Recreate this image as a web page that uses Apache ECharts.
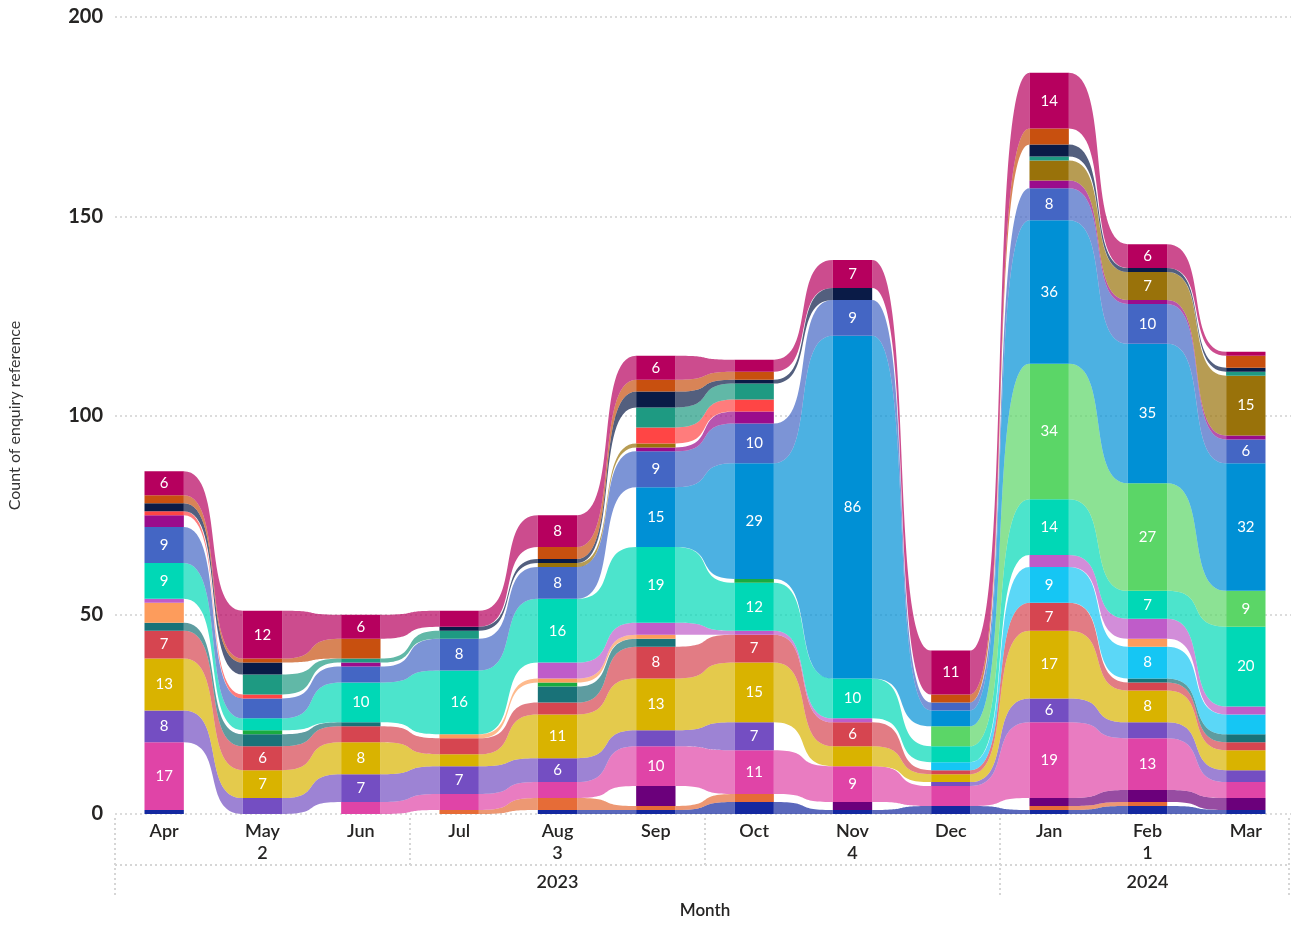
<!DOCTYPE html>
<html><head><meta charset="utf-8">
<script src="https://cdn.jsdelivr.net/npm/echarts@6/dist/echarts.min.js"></script>
<style>html,body{margin:0;padding:0;background:#fff}#c{width:1291px;height:925px}</style>
</head><body><div id="c"></div>
<script>
// ---------- data ----------
const months = ['Apr','May','Jun','Jul','Aug','Sep','Oct','Nov','Dec','Jan','Feb','Mar'];
const quarters = ['2','3','4','1'];          // fiscal quarter labels (one per 3 months)
const years = ['2023','2024'];               // 2023: Apr–Dec, 2024: Jan–Mar
const yTicks = [0, 50, 100, 150, 200];

// each month: segments from bottom to top, [category, count]
const apr = [['navy',1],['pink',17],['purple',8],['yellow',13],['red',7],['darkteal',2],['orange',5],['violet',1],['teal',9],['blue',9],['magpurple',3],['lightred',1],['darknavy',2],['orangebrown',2],['crimson',6]];
const may = [['purple',4],['yellow',7],['red',6],['darkteal',3],['green',1],['teal',3],['blue',5],['lightred',1],['seagreen',5],['darknavy',3],['orangebrown',1],['crimson',12]];
const jun = [['pink',3],['purple',7],['yellow',8],['red',4],['darkteal',1],['teal',10],['blue',4],['magpurple',1],['seagreen',1],['orangebrown',5],['crimson',6]];
const jul = [['orange2',1],['pink',4],['purple',7],['yellow',3],['red',4],['orange',1],['teal',16],['blue',8],['seagreen',2],['darknavy',1],['crimson',4]];
const aug = [['navy',1],['orange2',3],['pink',4],['purple',6],['yellow',11],['red',3],['darkteal',4],['green',1],['orange',1],['violet',4],['teal',16],['blue',8],['olive',1],['darknavy',1],['orangebrown',3],['crimson',8]];
const sep = [['navy',1],['orange2',1],['darkpurple',5],['pink',10],['purple',4],['yellow',13],['red',8],['darkteal',2],['orange',1],['violet',3],['teal',19],['brightblue',15],['blue',9],['magpurple',1],['olive',1],['lightred',4],['seagreen',5],['darknavy',4],['orangebrown',3],['crimson',6]];
const oct = [['navy',3],['orange2',2],['pink',11],['purple',7],['yellow',15],['red',7],['violet',1],['teal',12],['green',1],['brightblue',29],['blue',10],['magpurple',3],['lightred',3],['seagreen',4],['darknavy',1],['orangebrown',2],['crimson',3]];
const nov = [['navy',1],['darkpurple',2],['pink',9],['yellow',5],['red',6],['violet',1],['teal',10],['brightblue',86],['blue',9],['darknavy',3],['crimson',7]];
const dec = [['navy',2],['pink',5],['purple',1],['yellow',2],['red',1],['cyan',2],['teal',4],['lightgreen',5],['brightblue',4],['blue',2],['orangebrown',2],['crimson',11]];
const jan = [['navy',1],['orange2',1],['darkpurple',2],['pink',19],['purple',6],['yellow',17],['red',7],['cyan',9],['violet',3],['teal',14],['lightgreen',34],['brightblue',36],['blue',8],['magpurple',2],['olive',5],['seagreen',1],['darknavy',3],['orangebrown',4],['crimson',14]];
const feb = [['navy',2],['orange2',1],['darkpurple',3],['pink',13],['purple',4],['yellow',8],['red',2],['darkteal',1],['cyan',8],['orange',2],['violet',5],['teal',7],['lightgreen',27],['brightblue',35],['blue',10],['magpurple',1],['olive',7],['darknavy',1],['crimson',6]];
const mar = [['navy',1],['darkpurple',3],['pink',4],['purple',3],['yellow',5],['red',2],['darkteal',2],['cyan',5],['violet',2],['teal',20],['lightgreen',9],['brightblue',32],['blue',6],['magpurple',1],['olive',15],['seagreen',1],['darknavy',1],['orangebrown',3],['crimson',1]];

// ---------- styles ----------
const colors = {
  navy:'#1428a0', pink:'#e044a7', purple:'#744ec2', yellow:'#d9b300', red:'#d64550',
  darkteal:'#197278', orange:'#fd9c5c', violet:'#bf5cc9', teal:'#00d8b6', blue:'#4466c4',
  magpurple:'#9a0c8c', lightred:'#ff4545', darknavy:'#0a1b47', orangebrown:'#c8500f',
  crimson:'#b6005e', seagreen:'#1e9a82', green:'#1aab40', lightgreen:'#5bd667',
  brightblue:'#0090d5', cyan:'#15c6f4', darkpurple:'#6b007b', orange2:'#e66c37', olive:'#99720a'
};
const FONT = 'Lato, "Open Sans", sans-serif';
const TXT = '#252423';

// ---------- derived ----------
const stacks = [apr, may, jun, jul, aug, sep, oct, nov, dec, jan, feb, mar];
const pos = stacks.map(s => { let acc = 0; const m = {}; s.forEach(([c, v]) => { m[c] = [acc, acc + v, v]; acc += v; }); return m; });

const barData = [];
stacks.forEach((s, i) => s.forEach(([c, v]) => {
  const p = pos[i][c];
  barData.push({ value: [i, p[0], p[1], v], itemStyle: { color: colors[c] } });
}));
const ribbonData = [];
for (let i = 0; i < stacks.length - 1; i++) {
  stacks[i].forEach(([c]) => {
    const a = pos[i][c], b = pos[i + 1][c];
    if (b) ribbonData.push({ value: [i, a[0], a[1], b[0], b[1]], itemStyle: { color: colors[c] } });
  });
}

function renderRibbon(params, api) {
  const i = api.value(0);
  const half = api.size([1, 0])[0] * 0.2;
  const a0 = api.coord([i, api.value(1)]), a1 = api.coord([i, api.value(2)]);
  const b0 = api.coord([i + 1, api.value(3)]), b1 = api.coord([i + 1, api.value(4)]);
  const x0 = a0[0] + half, x1 = b0[0] - half, dx = x1 - x0, k = 0.72;
  const d = 'M' + x0 + ',' + a1[1] +
    ' C' + (x0 + k * dx) + ',' + a1[1] + ' ' + (x1 - k * dx) + ',' + b1[1] + ' ' + x1 + ',' + b1[1] +
    ' L' + x1 + ',' + b0[1] +
    ' C' + (x1 - k * dx) + ',' + b0[1] + ' ' + (x0 + k * dx) + ',' + a0[1] + ' ' + x0 + ',' + a0[1] + ' Z';
  return { type: 'path', shape: { pathData: d }, style: { fill: api.visual('color'), opacity: 0.7 } };
}
function renderBar(params, api) {
  const i = api.value(0);
  const w = api.size([1, 0])[0] * 0.4;
  const pb = api.coord([i, api.value(1)]), pt = api.coord([i, api.value(2)]);
  const v = api.value(3);
  const children = [{ type: 'rect', shape: { x: pb[0] - w / 2, y: pt[1], width: w, height: pb[1] - pt[1] }, style: { fill: api.visual('color') } }];
  if (v >= 6) children.push({ type: 'text', style: { text: String(v), x: pb[0], y: (pb[1] + pt[1]) / 2, fill: '#fff', fontSize: 15, fontFamily: FONT, align: 'center', verticalAlign: 'middle' } });
  return { type: 'group', children };
}

const quarterAt = { 1.5: quarters[0], 4.5: quarters[1], 7.5: quarters[2], 10.5: quarters[3] };
const yearAt = { 4.5: years[0], 10.5: years[1] };

const chart = echarts.init(document.getElementById('c'), null, { renderer: 'canvas' });
chart.setOption({
  animation: false,
  backgroundColor: '#fff',
  grid: { left: 115, right: -4, top: 17, bottom: 111, containLabel: false, outerBoundsMode: 'none' },
  xAxis: [
    { type: 'category', data: months, boundaryGap: true,
      axisLine: { show: false }, axisTick: { show: false },
      axisLabel: { color: TXT, fontSize: 18, fontWeight: 600, fontFamily: FONT, margin: 8 },
      name: 'Month', nameLocation: 'middle', nameGap: 88,
      nameTextStyle: { color: TXT, fontSize: 17, fontWeight: 600, fontFamily: FONT } },
    { type: 'value', min: 0, max: 12, interval: 1.5, position: 'bottom', offset: 22,
      axisLine: { show: false }, axisTick: { show: false }, splitLine: { show: false },
      axisLabel: { color: TXT, fontSize: 18, fontWeight: 600, fontFamily: FONT, margin: 8,
        showMinLabel: true, showMaxLabel: true, formatter: v => quarterAt[v] || '' } },
    { type: 'value', min: 0, max: 12, interval: 1.5, position: 'bottom', offset: 51,
      axisLine: { show: false }, axisTick: { show: false }, splitLine: { show: false },
      axisLabel: { color: TXT, fontSize: 18, fontWeight: 600, fontFamily: FONT, margin: 8,
        formatter: v => yearAt[v] || '' } }
  ],
  yAxis: {
    type: 'value', min: yTicks[0], max: yTicks[yTicks.length - 1], interval: 50,
    axisLine: { show: false }, axisTick: { show: false },
    axisLabel: { color: TXT, fontSize: 20, fontWeight: 700, fontFamily: FONT, margin: 12 },
    splitLine: { lineStyle: { color: '#dcdcdc', width: 2, type: [2, 3] } },
    name: 'Count of enquiry reference', nameLocation: 'middle', nameGap: 92, nameRotate: 90,
    nameTextStyle: { color: '#333', fontSize: 16, fontFamily: FONT }
  },
  series: [
    { type: 'custom', name: 'ribbons', renderItem: renderRibbon, data: ribbonData, encode: { x: 0, y: [1, 2] }, z: 1, silent: true },
    { type: 'custom', name: 'bars', renderItem: renderBar, data: barData, encode: { x: 0, y: [1, 2] }, z: 2, silent: true }
  ]
});

// hierarchy separators of the x axis, placed with the axis scale
const dotted = { stroke: '#d6d6d6', lineWidth: 2, lineDash: [2, 3] };
const xb = v => Math.min(chart.convertToPixel({ xAxisIndex: 1 }, v), 1289);
const seps = [];
[0, 3, 6, 9, 12].forEach(v => {
  const full = (v === 0 || v === 9 || v === 12);
  seps.push({ type: 'line', shape: { x1: xb(v), y1: 818, x2: xb(v), y2: full ? 895 : 865 }, style: dotted, silent: true });
});
seps.push({ type: 'line', shape: { x1: xb(0), y1: 865, x2: xb(12), y2: 865 }, style: dotted, silent: true });
chart.setOption({ graphic: seps });
</script></body></html>
